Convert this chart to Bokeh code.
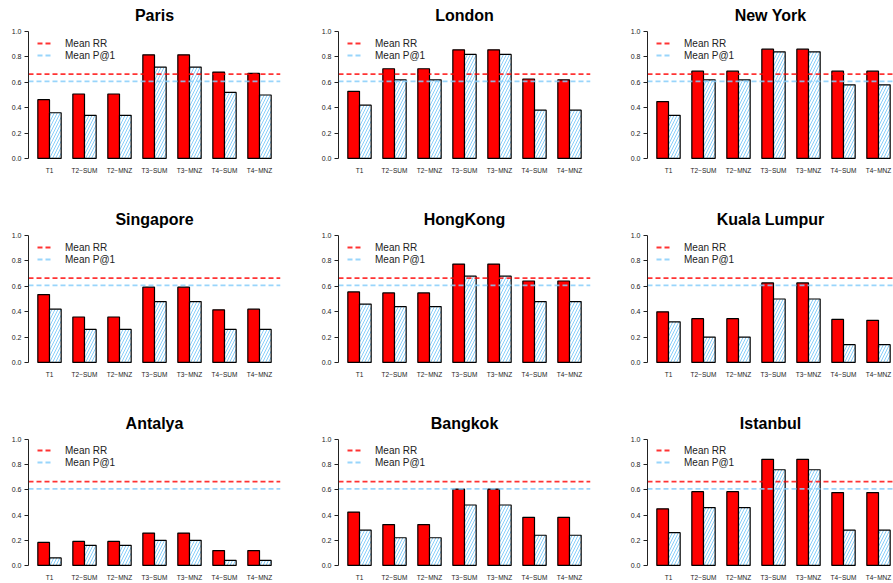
from bokeh.plotting import figure
from bokeh.layouts import gridplot
from bokeh.models import FixedTicker, Legend, LegendItem, NumeralTickFormatter
from bokeh.embed import file_html
from bokeh.resources import INLINE

methods = ["T1", "T2\u2212SUM", "T2\u2212MNZ", "T3\u2212SUM", "T3\u2212MNZ", "T4\u2212SUM", "T4\u2212MNZ"]
cities = ["Paris", "London", "New York",
          "Singapore", "HongKong", "Kuala Lumpur",
          "Antalya", "Bangkok", "Istanbul"]

rr_paris = [0.463, 0.508, 0.508, 0.817, 0.817, 0.681, 0.670]
p1_paris = [0.36, 0.34, 0.34, 0.72, 0.72, 0.52, 0.50]
rr_london = [0.529, 0.707, 0.707, 0.856, 0.856, 0.626, 0.620]
p1_london = [0.42, 0.62, 0.62, 0.82, 0.82, 0.38, 0.38]
rr_newyork = [0.448, 0.688, 0.688, 0.861, 0.861, 0.688, 0.688]
p1_newyork = [0.34, 0.62, 0.62, 0.84, 0.84, 0.58, 0.58]
rr_singapore = [0.535, 0.358, 0.358, 0.593, 0.593, 0.415, 0.420]
p1_singapore = [0.42, 0.26, 0.26, 0.48, 0.48, 0.26, 0.26]
rr_hongkong = [0.556, 0.548, 0.548, 0.775, 0.775, 0.642, 0.642]
p1_hongkong = [0.46, 0.44, 0.44, 0.68, 0.68, 0.48, 0.48]
rr_kualalumpur = [0.399, 0.345, 0.345, 0.627, 0.627, 0.339, 0.332]
p1_kualalumpur = [0.32, 0.20, 0.20, 0.50, 0.50, 0.14, 0.14]
rr_antalya = [0.183, 0.191, 0.191, 0.257, 0.257, 0.118, 0.118]
p1_antalya = [0.06, 0.16, 0.16, 0.20, 0.20, 0.04, 0.04]
rr_bangkok = [0.424, 0.325, 0.325, 0.607, 0.607, 0.382, 0.382]
p1_bangkok = [0.28, 0.22, 0.22, 0.48, 0.48, 0.24, 0.24]
rr_istanbul = [0.450, 0.586, 0.586, 0.843, 0.843, 0.579, 0.579]
p1_istanbul = [0.26, 0.46, 0.46, 0.76, 0.76, 0.28, 0.28]

mean_rr = 0.665
mean_p1 = 0.608

rr_all = [rr_paris, rr_london, rr_newyork, rr_singapore, rr_hongkong,
          rr_kualalumpur, rr_antalya, rr_bangkok, rr_istanbul]
p1_all = [p1_paris, p1_london, p1_newyork, p1_singapore, p1_hongkong,
          p1_kualalumpur, p1_antalya, p1_bangkok, p1_istanbul]

FONT = "Liberation Sans"
col_w = [309, 309, 275]
col_left = [28, 29, 29]
row_h = [204, 204, 175]
PX_PER_UNIT = 252 / 21.6

rr_x = [1.5 + 3 * i for i in range(len(methods))]
p1_x = [2.5 + 3 * i for i in range(len(methods))]
tick_x = [2 + 3 * i for i in range(len(methods))]

rows = []
for r in range(3):
    row = []
    for c in range(3):
        k = r * 3 + c
        w, h = col_w[c], row_h[r]
        left = col_left[c]
        frame_w = (w - left) if c == 2 else 252
        x_end = 0.2 + frame_w / PX_PER_UNIT
        right = w - left - frame_w
        bottom = 12 if r == 2 else 41
        p = figure(width=w, height=h, x_range=(0.2, x_end), y_range=(-0.04, 1.04),
                   output_backend="svg", toolbar_location=None,
                   min_border_left=left, min_border_right=right,
                   min_border_top=26, min_border_bottom=bottom)
        p.outline_line_color = None
        p.xgrid.visible = False
        p.ygrid.visible = False
        p.background_fill_color = "white"
        p.border_fill_color = "white"

        p.title.text = cities[k]
        p.title.text_font = FONT
        p.title.text_font_style = "bold"
        p.title.text_font_size = "16px"
        p.title.align = "center"
        p.title.standoff = 5
        p.title.text_color = "black"

        p.vbar(x=rr_x, top=rr_all[k], width=1, bottom=0,
               fill_color="#FF0000", line_color="black", line_width=1.2)
        p.vbar(x=p1_x, top=p1_all[k], width=1, bottom=0,
               fill_color="white", line_color="black", line_width=1.2,
               hatch_pattern="/", hatch_color="#87CEFA", hatch_scale=6, hatch_weight=1)

        xs = [p.x_range.start, p.x_range.end]
        l_rr = p.line(x=xs, y=[mean_rr, mean_rr], line_color="#FF0000", line_alpha=0.8,
                      line_width=1.8, line_dash="5 3")
        l_p1 = p.line(x=xs, y=[mean_p1, mean_p1], line_color="#87CEFA", line_alpha=0.85,
                      line_width=1.8, line_dash="5 3")

        legend = Legend(items=[LegendItem(label="Mean RR", renderers=[l_rr]),
                               LegendItem(label="Mean P@1", renderers=[l_p1])],
                        location=(9, 102), orientation="vertical",
                        glyph_width=14, glyph_height=12, label_height=12,
                        label_standoff=14, spacing=0, padding=0, margin=0,
                        border_line_color=None, background_fill_alpha=0,
                        label_text_font=FONT, label_text_font_size="10px",
                        label_text_color="#222222")
        p.add_layout(legend, "center")

        ya = p.yaxis[0]
        ya.bounds = (0, 1)
        ya.ticker = FixedTicker(ticks=[0, 0.2, 0.4, 0.6, 0.8, 1.0], minor_ticks=[])
        ya.formatter = NumeralTickFormatter(format="0.0")
        ya.major_tick_out = 4
        ya.major_tick_in = 0
        ya.minor_tick_line_color = None
        ya.major_label_standoff = 3
        ya.major_label_text_font = FONT
        ya.major_label_text_font_size = "7px"
        ya.major_label_text_color = "#222222"
        ya.axis_line_color = "#222222"
        ya.major_tick_line_color = "#222222"

        xa = p.xaxis[0]
        xa.ticker = FixedTicker(ticks=tick_x, minor_ticks=[])
        xa.major_label_overrides = {t: m for t, m in zip(tick_x, methods)}
        xa.axis_line_color = None
        xa.major_tick_line_color = None
        xa.minor_tick_line_color = None
        xa.major_tick_out = 0
        xa.major_tick_in = 0
        xa.major_label_standoff = 3
        xa.major_label_text_font = FONT
        xa.major_label_text_font_size = "6.5px"
        xa.major_label_text_color = "#222222"

        row.append(p)
    rows.append(row)

grid = gridplot(rows, toolbar_location=None)

open("out.html", "w").write(file_html(grid, INLINE))
